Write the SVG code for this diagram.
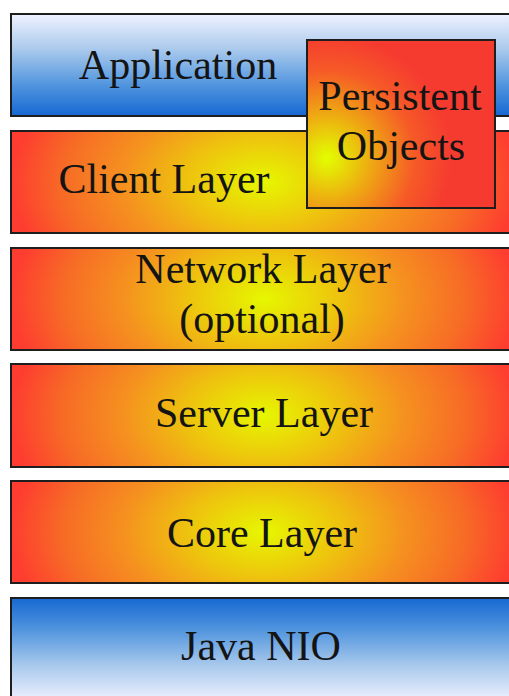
<svg xmlns="http://www.w3.org/2000/svg" width="509" height="696" viewBox="0 0 509 696">
  <defs>
    <!-- warm layer fill: yellow core fading to orange and red at the sides -->
    <radialGradient id="warm" cx="0.5" cy="0.5" r="0.5" gradientTransform="translate(0.5,0.5) scale(1,3) translate(-0.5,-0.5)">
      <stop offset="0" stop-color="#e6f700"/>
      <stop offset="0.3" stop-color="#eec30e"/>
      <stop offset="0.55" stop-color="#f5921f"/>
      <stop offset="0.8" stop-color="#f76a26"/>
      <stop offset="1" stop-color="#fe3c30"/>
    </radialGradient>
    <radialGradient id="warmBox" gradientUnits="userSpaceOnUse" cx="327" cy="158" r="125">
      <stop offset="0" stop-color="#e2ff00"/>
      <stop offset="0.35" stop-color="#eeaa12"/>
      <stop offset="0.7" stop-color="#f65a27"/>
      <stop offset="1" stop-color="#f53a30"/>
    </radialGradient>
    <linearGradient id="blueDown" x1="0" y1="0" x2="0" y2="1">
      <stop offset="0" stop-color="#f0f2ff"/>
      <stop offset="0.35" stop-color="#a9c9ec"/>
      <stop offset="0.7" stop-color="#5094de"/>
      <stop offset="1" stop-color="#1668d2"/>
    </linearGradient>
    <linearGradient id="blueUp" x1="0" y1="1" x2="0" y2="0">
      <stop offset="0" stop-color="#f0f2ff"/>
      <stop offset="0.35" stop-color="#a9c9ec"/>
      <stop offset="0.7" stop-color="#5094de"/>
      <stop offset="1" stop-color="#1668d2"/>
    </linearGradient>
  </defs>
  <style>
    .box { stroke: #1e1e1e; stroke-width: 2; }
    .label { font-family: "Liberation Serif", "DejaVu Serif", serif; font-size: 42px; fill: #141414; text-anchor: middle; }
  </style>

  <rect x="0" y="0" width="509" height="696" fill="#ffffff"/>

  <g id="application">
    <rect class="box" x="11" y="14" width="506" height="102" fill="url(#blueDown)"/>
    <text class="label" x="178" y="79">Application</text>
  </g>

  <g id="client-layer">
    <rect class="box" x="11" y="131" width="506" height="102" fill="url(#warm)"/>
    <text class="label" x="164" y="193">Client Layer</text>
  </g>

  <g id="persistent-objects">
    <rect class="box" x="307" y="40" width="188" height="168" fill="url(#warmBox)"/>
    <text class="label" x="400" y="110">Persistent</text>
    <text class="label" x="401" y="160">Objects</text>
  </g>

  <g id="network-layer">
    <rect class="box" x="11" y="248" width="506" height="102" fill="url(#warm)"/>
    <text class="label" x="263" y="283">Network Layer</text>
    <text class="label" x="262" y="333">(optional)</text>
  </g>

  <g id="server-layer">
    <rect class="box" x="11" y="364" width="506" height="103" fill="url(#warm)"/>
    <text class="label" x="264" y="427">Server Layer</text>
  </g>

  <g id="core-layer">
    <rect class="box" x="11" y="481" width="506" height="102" fill="url(#warm)"/>
    <text class="label" x="262" y="547">Core Layer</text>
  </g>

  <g id="java-nio">
    <rect class="box" x="11" y="598" width="506" height="104" fill="url(#blueUp)"/>
    <text class="label" x="261" y="660">Java NIO</text>
  </g>

  <g id="connectors"/>
</svg>
